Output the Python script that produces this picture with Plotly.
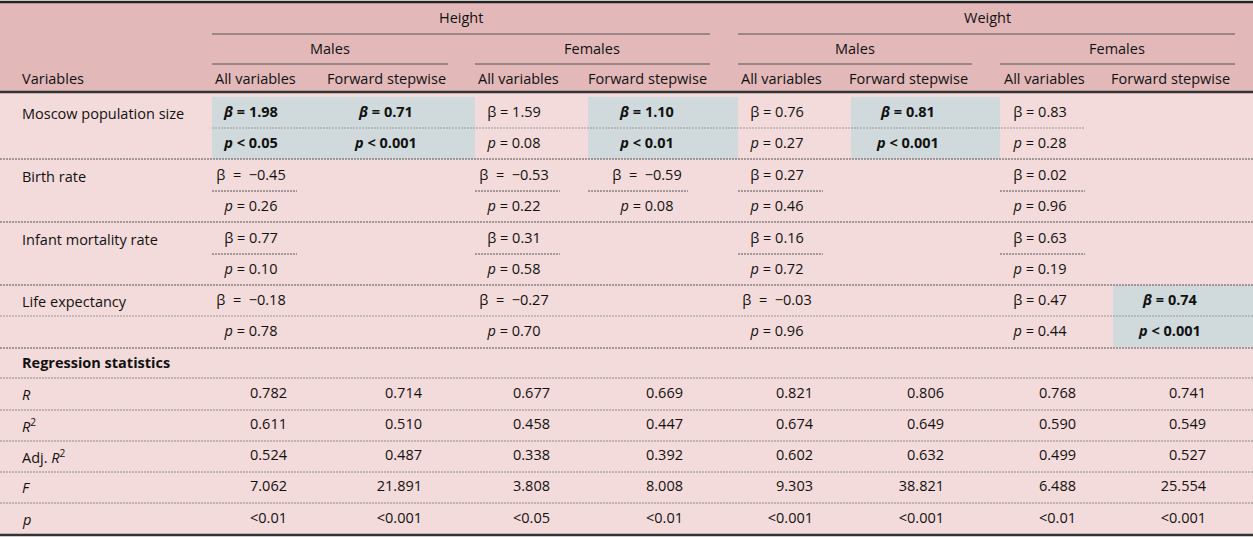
import plotly.graph_objects as go

# ---- data ----
groups = ["Height", "Weight"]
sexes = ["Males", "Females"]
methods = ["All variables", "Forward stepwise"]

variables = ["Moscow population size", "Birth rate", "Infant mortality rate", "Life expectancy"]

# one entry per model column: H-M-all, H-M-fwd, H-F-all, H-F-fwd, W-M-all, W-M-fwd, W-F-all, W-F-fwd
beta = [
    [1.98, 0.71, 1.59, 1.10, 0.76, 0.81, 0.83, None],
    [-0.45, None, -0.53, -0.59, 0.27, None, 0.02, None],
    [0.77, None, 0.31, None, 0.16, None, 0.63, None],
    [-0.18, None, -0.27, None, -0.03, None, 0.47, 0.74],
]
pval = [
    ["<0.05", "<0.001", "=0.08", "<0.01", "=0.27", "<0.001", "=0.28", None],
    ["=0.26", None, "=0.22", "=0.08", "=0.46", None, "=0.96", None],
    ["=0.10", None, "=0.58", None, "=0.72", None, "=0.19", None],
    ["=0.78", None, "=0.70", None, "=0.96", None, "=0.44", "<0.001"],
]
significant = [
    [True, True, False, True, False, True, False, False],
    [False] * 8,
    [False] * 8,
    [False, False, False, False, False, False, False, True],
]

stat_labels = ["<i>R</i>", "<i>R</i><sup>2</sup>", "Adj. <i>R</i><sup>2</sup>", "<i>F</i>", "<i>p</i>"]
stat_R = [0.782, 0.714, 0.677, 0.669, 0.821, 0.806, 0.768, 0.741]
stat_R2 = [0.611, 0.510, 0.458, 0.447, 0.674, 0.649, 0.590, 0.549]
stat_adjR2 = [0.524, 0.487, 0.338, 0.392, 0.602, 0.632, 0.499, 0.527]
stat_F = [7.062, 21.891, 3.808, 8.008, 9.303, 38.821, 6.488, 25.554]
stat_p = ["<0.01", "<0.001", "<0.05", "<0.01", "<0.001", "<0.001", "<0.01", "<0.001"]

# ---- layout constants (pixels) ----
W, H = 1253, 537
col_x = [251, 386, 514, 647, 777, 908, 1040, 1170]
col_edges = [212, 325, 475, 588, 738, 851, 1000, 1113, 1253]
beta_y = [113, 176, 239, 301]
p_y = [144, 207, 270, 332]
stat_head_y = 362
stat_y = [394, 425, 456, 487, 519]

HEAD_BG = "#e3b8b9"
BODY_BG = "#f4dbdb"
SIG_BG = "#d0d9db"
FONT = "Open Sans"
FS = 14.5

fig = go.Figure()
shapes = []


def rect(x0, x1, y0, y1, color):
    shapes.append(dict(type="rect", xref="x", yref="y", x0=x0, x1=x1, y0=y0, y1=y1,
                       fillcolor=color, line=dict(width=0), layer="below"))


def hline(y, x0, x1, width=1, color="#333", dash="solid"):
    shapes.append(dict(type="line", xref="x", yref="y", x0=x0, x1=x1, y0=y, y1=y,
                       line=dict(color=color, width=width, dash=dash)))


# backgrounds
rect(0, W, 3, 92, HEAD_BG)
rect(0, W, 92, 535, BODY_BG)
for i, row in enumerate(significant):
    top = 97 if i == 0 else beta_y[i] - 16
    for j, s in enumerate(row):
        if s:
            rect(col_edges[j], col_edges[j + 1], top, p_y[i] + 15, SIG_BG)

# header rules
hline(2, 0, W, width=2.5, color="#222")
hline(92, 0, W, width=2.5, color="#333")
hline(535, 0, W, width=2.5, color="#333")
hline(34, 212, 710, color="#555")
hline(34, 738, 1235, color="#555")
for x0, x1 in [(212, 448), (475, 710), (738, 972), (1000, 1235)]:
    hline(64, x0, x1, color="#555")

# body separators
hline(128, 212, 1085, color="#999", dash="2px,1px")
for y in [159, 222, 285, 348]:
    hline(y, 0, W, width=1.2, color="#555", dash="2px,1px")
hline(316, 0, W, color="#999", dash="2px,1px")
for i, y in [(1, 191), (2, 254)]:
    for j, b in enumerate(beta[i]):
        if b is not None:
            hline(y, col_edges[j], col_edges[j] + 85 if j % 2 == 0 else col_edges[j] + 100,
                  color="#555", dash="2px,1px")
for y in [378, 410, 441, 472, 503]:
    hline(y, 0, W, color="#888", dash="2px,1px")

# header labels
annotations = []


def label(x, y, text, anchor="center", bold=False):
    annotations.append(dict(x=x, y=y, xref="x", yref="y", text=f"<b>{text}</b>" if bold else text,
                            showarrow=False, xanchor=anchor, yanchor="middle",
                            font=dict(family=FONT, size=FS, color="#111")))


for g, gx in zip(groups, [461, 987]):
    label(gx, 17, g)
for k, s in enumerate(sexes * 2):
    label([330, 592, 855, 1117][k], 48, s)
label(20, 78, "Variables", anchor="left")
for j in range(8):
    label(col_x[j] + (4 if j % 2 == 0 else 0), 78, methods[j % 2])

for v, y in zip(variables, beta_y):
    label(20, y, v, anchor="left")
label(20, stat_head_y, "Regression statistics", anchor="left", bold=True)
for s, y in zip(stat_labels, stat_y):
    label(20, y, s, anchor="left")

# coefficient cells
cx, cy, ct = [], [], []
for i in range(len(variables)):
    for j in range(8):
        b = beta[i][j]
        if b is not None:
            num = f"{b:.2f}".replace("-", "\u2212")
            if significant[i][j]:
                t = f"<b><i>β</i> = {num}</b>"
            elif b < 0:
                t = f"β\u00a0 =\u00a0 {num}"
            else:
                t = f"β = {num}"
            cx.append(col_x[j])
            cy.append(beta_y[i])
            ct.append(t)
        p = pval[i][j]
        if p is not None:
            op = "&lt;" if p[0] == "<" else "="
            if significant[i][j]:
                t = f"<b><i>p</i> {op} {p[1:]}</b>"
            else:
                t = f"<i>p</i> {op} {p[1:]}"
            cx.append(col_x[j])
            cy.append(p_y[i])
            ct.append(t)

fig.add_trace(go.Scatter(x=cx, y=cy, text=ct, mode="text", textposition="middle center",
                         textfont=dict(family=FONT, size=FS, color="#111"), hoverinfo="skip"))

# regression statistics cells
sx, sy, st = [], [], []
for row, y in zip([stat_R, stat_R2, stat_adjR2, stat_F, stat_p], stat_y):
    for j, v in enumerate(row):
        sx.append(col_x[j] + 36)
        sy.append(y)
        st.append(v.replace("<", "&lt;") if isinstance(v, str) else f"{v:.3f}")

fig.add_trace(go.Scatter(x=sx, y=sy, text=st, mode="text", textposition="middle left",
                         textfont=dict(family=FONT, size=FS, color="#111"), hoverinfo="skip"))

fig.update_layout(
    width=W, height=H,
    margin=dict(l=0, r=0, t=0, b=0),
    paper_bgcolor="white", plot_bgcolor="white",
    showlegend=False,
    shapes=shapes,
    annotations=annotations,
    xaxis=dict(range=[0, W], visible=False, fixedrange=True),
    yaxis=dict(range=[H, 0], visible=False, fixedrange=True),
)

fig.write_html("out.html", config={"displayModeBar": False},
               post_script="document.body.style.margin='0';")
